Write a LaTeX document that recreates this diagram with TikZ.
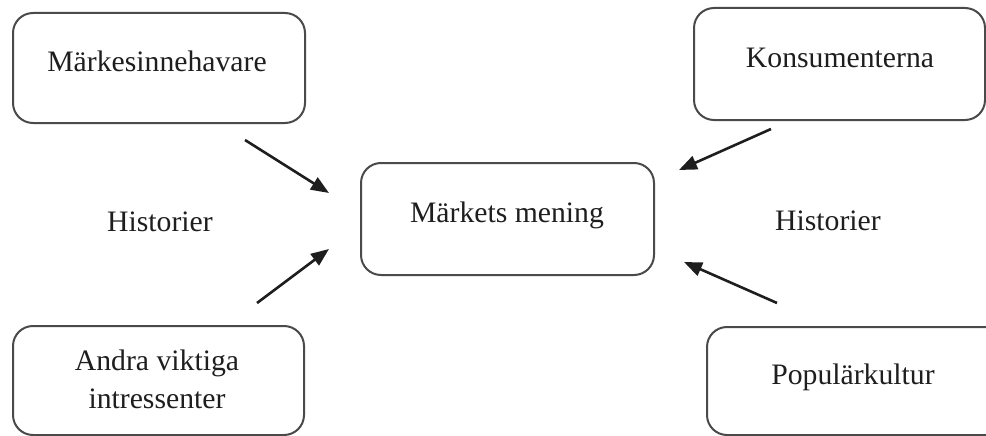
\documentclass[tikz,border=0pt]{standalone}
\usepackage{fontspec}
\setmainfont{Liberation Serif}
\usetikzlibrary{arrows.meta}
\definecolor{boxline}{HTML}{4A4A4A}
\definecolor{ink}{HTML}{1E1E1E}
\begin{document}
\begin{tikzpicture}[x=1pt,y=-1pt,
  roundbox/.style={draw=boxline,line width=2pt,rounded corners=20pt,minimum width=#1,inner sep=0pt},
  roundbox/.default=292pt,
  label text/.style={anchor=base,text=ink,font=\fontsize{29.7}{38}\selectfont,inner sep=0pt,align=center},
  flow/.style={draw=ink,line width=2.6pt,-{Triangle[length=18pt,width=14pt]},shorten >=0pt}]
\useasboundingbox (0,0) rectangle (986,436);
\begin{scope}
\clip (0,0) rectangle (986,436);
% boxes
\node[roundbox=292pt,minimum height=110pt] (owner) at (159,68) {};
\node[roundbox=291pt,minimum height=112pt] (consumers) at (839.5,64) {};
\node[roundbox=293pt,minimum height=112pt] (meaning) at (507.5,219) {};
\node[roundbox=291pt,minimum height=109pt] (others) at (158.5,380.5) {};
\node[roundbox=310pt,minimum height=108pt] (popular) at (862,381) {};
\end{scope}
% texts
\node[label text] (ownerT) at (157,72) {Märkesinnehavare};
\node[label text] (consumersT) at (840,68) {Konsumenterna};
\node[label text] (meaningT) at (507,222.5) {Märkets mening};
\node[label text] (othersT) at (157,408) {Andra viktiga\\intressenter};
\node[label text] (popularT) at (853,384) {Populärkultur};
\node[label text] (histL) at (160,231) {Historier};
\node[label text] (histR) at (828,230) {Historier};
% arrow ends
\coordinate (a1s) at (245,140); \coordinate (a1e) at (329,193);
\coordinate (a2s) at (257,303); \coordinate (a2e) at (329,249);
\coordinate (a3s) at (771,129); \coordinate (a3e) at (679,170);
\coordinate (a4s) at (777,303); \coordinate (a4e) at (684,262);
\draw[flow] (a1s) -- (a1e);
\draw[flow] (a2s) -- (a2e);
\draw[flow] (a3s) -- (a3e);
\draw[flow] (a4s) -- (a4e);
\end{tikzpicture}
\end{document}
